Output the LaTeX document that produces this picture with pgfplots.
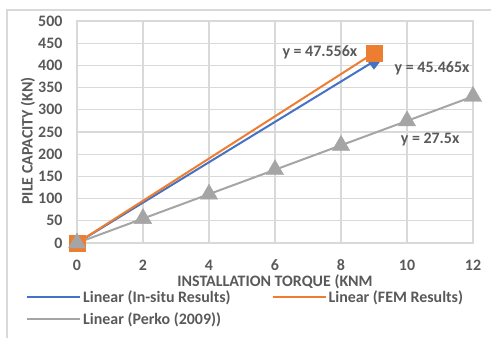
\documentclass[border=0pt]{standalone}
\usepackage{pgfplots}
\pgfplotsset{compat=1.18}
\usepackage{fontspec}
\setmainfont{Carlito}[UprightFont=* Bold, BoldFont=* Bold]
\definecolor{cblue}{HTML}{4472C4}
\definecolor{corange}{HTML}{ED7D31}
\definecolor{cgray}{HTML}{A5A5A5}
\definecolor{cgrid}{HTML}{D9D9D9}
\definecolor{ctext}{HTML}{595959}
\begin{document}
\begin{tikzpicture}[font=\fontsize{16}{18}\selectfont]
\useasboundingbox (-77bp,-95bp) rectangle (414bp,243bp);
\draw[cgrid, line width=1.2bp] (-70bp,-120bp) -- (-70bp,233bp) -- (450bp,233bp);
\begin{axis}[
  at={(0,0)}, anchor=origin,
  scale only axis, width=396bp, height=222bp,
  xmin=0, xmax=12, ymin=0, ymax=500,
  xtick={0,2,...,12}, ytick={0,50,...,500},
  grid=major,
  major grid style={cgrid, line width=1.2bp},
  axis line style={cgrid, line width=1.2bp},
  tick style={draw=none},
  /pgf/number format/assume math mode=true,
  ticklabel style={text=ctext, font=\fontsize{16}{18}\selectfont},
  xticklabel style={anchor=center, yshift=-22bp, inner sep=0pt},
  yticklabel style={anchor=east, xshift=-11bp},
  xlabel={INSTALLATION TORQUE (KNM},
  ylabel={PILE CAPACITY (KN)},
  label style={text=ctext, font=\fontsize{16}{18}\selectfont},
  xlabel style={at={(0.5,0)}, anchor=center, yshift=-38.5bp, inner sep=0pt},
  ylabel style={at={(0,0.5)}, anchor=center, yshift=49bp, xshift=-9bp, inner sep=0pt},
  clip=false,
  legend columns=2,
  legend style={draw=none, fill=none, at={(-51bp,-45bp)}, anchor=north west, inner sep=0pt,
    font=\fontsize{16}{18}\selectfont, text=ctext,
    row sep=5bp,
    /tikz/every even column/.append style={column sep=39bp}},
  legend cell align=left,
  legend image code/.code={\draw[#1, line width=2bp] (0bp,0bp) -- (53bp,0bp);},
]
% markers
\addplot[forget plot, only marks, mark=diamond*, mark size=8bp, color=cblue] coordinates {(0,0) (9,409.185)};
\addplot[forget plot, only marks, mark=square*, mark size=8bp, color=corange] coordinates {(0,0) (9,428.004)};
\addplot[forget plot, only marks, mark=triangle*, mark size=10bp, color=cgray] coordinates {(0,0) (2,55) (4,110) (6,165) (8,220) (10,275) (12,330)};
% trendlines
\addplot[cblue, line width=2bp, no marks] coordinates {(0,0) (9,409.185)};
\addlegendentry{Linear (In-situ Results)}
\addplot[corange, line width=2bp, no marks] coordinates {(0,0) (9,428.004)};
\addlegendentry{Linear (FEM Results)}
\addplot[cgray, line width=2bp, no marks] coordinates {(0,0) (12,330)};
\addlegendentry{Linear (Perko (2009))}
\node[text=ctext] at (axis cs:7.36,430) {y = 47.556x};
\node[text=ctext] at (axis cs:10.76,394) {y = 45.465x};
\node[text=ctext] at (axis cs:10.70,234) {y = 27.5x};
\end{axis}
\end{tikzpicture}
\end{document}
